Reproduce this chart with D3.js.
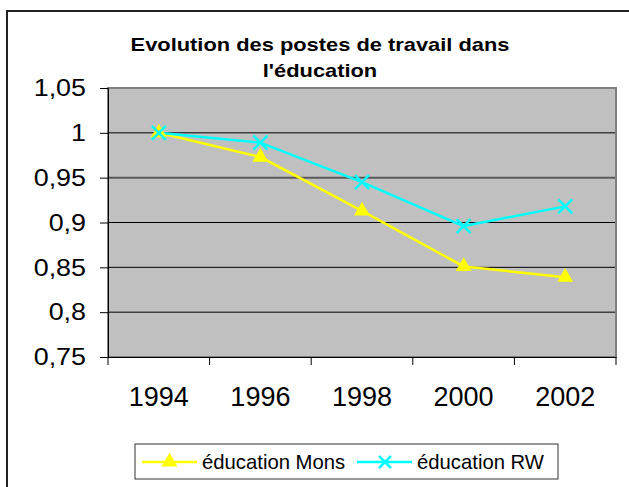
<!DOCTYPE html>
<html>
<head>
<meta charset="utf-8">
<script src="https://cdn.jsdelivr.net/npm/d3@7"></script>
<style>
  body { margin: 0; background: #fff; }
  text { font-family: "Liberation Sans", Arial, sans-serif; }
</style>
</head>
<body>
<div id="chart"></div>
<script>
const years = ['1994', '1996', '1998', '2000', '2002'];
const mons = [1.0, 0.973, 0.913, 0.851, 0.839];
const rw = [1.0, 0.989, 0.945, 0.896, 0.918];
const yTicks = [0.75, 0.8, 0.85, 0.9, 0.95, 1, 1.05];
const seriesNames = ['éducation Mons', 'éducation RW'];

const width = 629;
const height = 487;
const plot = { left: 108, right: 616, top: 88, bottom: 357 };

const svg = d3.select('#chart')
  .append('svg')
  .attr('width', width)
  .attr('height', height);

// the original text is a bit wider than plain Arial, stretch it
function stretch(sel, k) {
  sel.each(function () {
    const w = this.getComputedTextLength();
    d3.select(this).attr('textLength', w * k).attr('lengthAdjust', 'spacingAndGlyphs');
  });
}

// outer chart border
svg.append('rect')
  .attr('x', 7).attr('y', 11)
  .attr('width', 640).attr('height', 500)
  .attr('fill', 'none')
  .attr('stroke', '#222')
  .attr('stroke-width', 2);

const title = svg.append('g')
  .attr('font-size', 19).attr('font-weight', 'bold')
  .attr('text-anchor', 'middle');
title.append('text').attr('x', 320).attr('y', 51).text('Evolution des postes de travail dans');
title.append('text').attr('x', 320).attr('y', 77).text("l'éducation");
stretch(title.selectAll('text'), 1.15);

const x = d3.scaleBand()
  .domain(years)
  .range([plot.left, plot.right]);

const y = d3.scaleLinear()
  .domain([0.75, 1.05])
  .range([plot.bottom, plot.top]);

const fr = d3.formatLocale({ decimal: ',', thousands: ' ', grouping: [3], currency: ['', '€'] });
const fmt = fr.format('.2~f');

svg.append('rect')
  .attr('x', plot.left).attr('y', plot.top)
  .attr('width', plot.right - plot.left)
  .attr('height', plot.bottom - plot.top)
  .attr('fill', '#c0c0c0');

// gridlines (the 0,95 one comes out darker and thicker in the original)
svg.append('g')
  .selectAll('line')
  .data(yTicks.slice(1, -1))
  .join('line')
    .attr('x1', plot.left).attr('x2', plot.right)
    .attr('y1', d => y(d)).attr('y2', d => y(d))
    .attr('stroke', d => d === 0.95 ? '#5a5a5a' : '#000')
    .attr('stroke-width', d => d === 0.95 ? 2 : 1);

svg.append('rect')
  .attr('x', plot.left).attr('y', plot.top)
  .attr('width', plot.right - plot.left)
  .attr('height', plot.bottom - plot.top)
  .attr('fill', 'none')
  .attr('stroke', '#808080').attr('stroke-width', 2);

// y axis
const yAxis = svg.append('g')
  .attr('transform', `translate(${plot.left},0)`)
  .call(d3.axisLeft(y).tickValues(yTicks).tickFormat(fmt).tickSize(8).tickPadding(14));
yAxis.select('.domain').attr('stroke', '#000');
yAxis.selectAll('text').attr('font-size', 24).attr('font-family', '"Liberation Sans", Arial, sans-serif');
stretch(yAxis.selectAll('text'), 1.12);

// x axis: labels centred, ticks on category boundaries
const xAxis = svg.append('g')
  .attr('transform', `translate(0,${plot.bottom})`)
  .call(d3.axisBottom(x).tickSize(0).tickPadding(30));
xAxis.select('.domain').attr('stroke', '#000');
xAxis.selectAll('text').attr('font-size', 27).attr('font-family', '"Liberation Sans", Arial, sans-serif');
xAxis.selectAll('line.bound')
  .data(years.map(d => x(d)).concat([plot.right]))
  .join('line')
    .attr('class', 'bound')
    .attr('x1', d => d).attr('x2', d => d)
    .attr('y1', 0).attr('y2', 8)
    .attr('stroke', '#000');

const line = d3.line()
  .x((d, i) => x(years[i]) + x.bandwidth() / 2)
  .y(d => y(d));

svg.append('path')
  .datum(mons)
  .attr('d', line)
  .attr('fill', 'none')
  .attr('stroke', '#ffff00').attr('stroke-width', 2.5);

svg.append('path')
  .datum(rw)
  .attr('d', line)
  .attr('fill', 'none')
  .attr('stroke', '#00ffff').attr('stroke-width', 2.5);

const tri = d3.symbol().type(d3.symbolTriangle).size(110);

svg.append('g')
  .selectAll('path')
  .data(mons)
  .join('path')
    .attr('transform', (d, i) => `translate(${x(years[i]) + x.bandwidth() / 2},${y(d)})`)
    .attr('d', tri)
    .attr('fill', '#ffff00');

function cross(g, s) {
  g.append('line').attr('x1', -s).attr('y1', -s).attr('x2', s).attr('y2', s);
  g.append('line').attr('x1', -s).attr('y1', s).attr('x2', s).attr('y2', -s);
}

svg.append('g')
  .selectAll('g')
  .data(rw)
  .join('g')
    .attr('transform', (d, i) => `translate(${x(years[i]) + x.bandwidth() / 2},${y(d)})`)
    .attr('stroke', '#00ffff').attr('stroke-width', 2.5)
    .each(function () { cross(d3.select(this), 7); });

// legend
const legend = svg.append('g');
legend.append('rect')
  .attr('x', 135).attr('y', 444)
  .attr('width', 423).attr('height', 35)
  .attr('fill', '#fff')
  .attr('stroke', '#333').attr('stroke-width', 1);

const lx = [142, 357];
const colors = ['#ffff00', '#00ffff'];
seriesNames.forEach((name, i) => {
  const g = legend.append('g').attr('transform', `translate(${lx[i]},462)`);
  g.append('line')
    .attr('x1', 0).attr('x2', 55)
    .attr('stroke', colors[i]).attr('stroke-width', 2.5);
  if (i === 0) {
    g.append('path').attr('transform', 'translate(27.5,0)').attr('d', tri).attr('fill', colors[i]);
  } else {
    const c = g.append('g').attr('transform', 'translate(28,0)')
      .attr('stroke', colors[i]).attr('stroke-width', 2.5);
    cross(c, 6);
  }
  g.append('text')
    .attr('x', 60).attr('y', 7)
    .attr('font-size', 20.3)
    .text(name);
});
</script>
</body>
</html>
